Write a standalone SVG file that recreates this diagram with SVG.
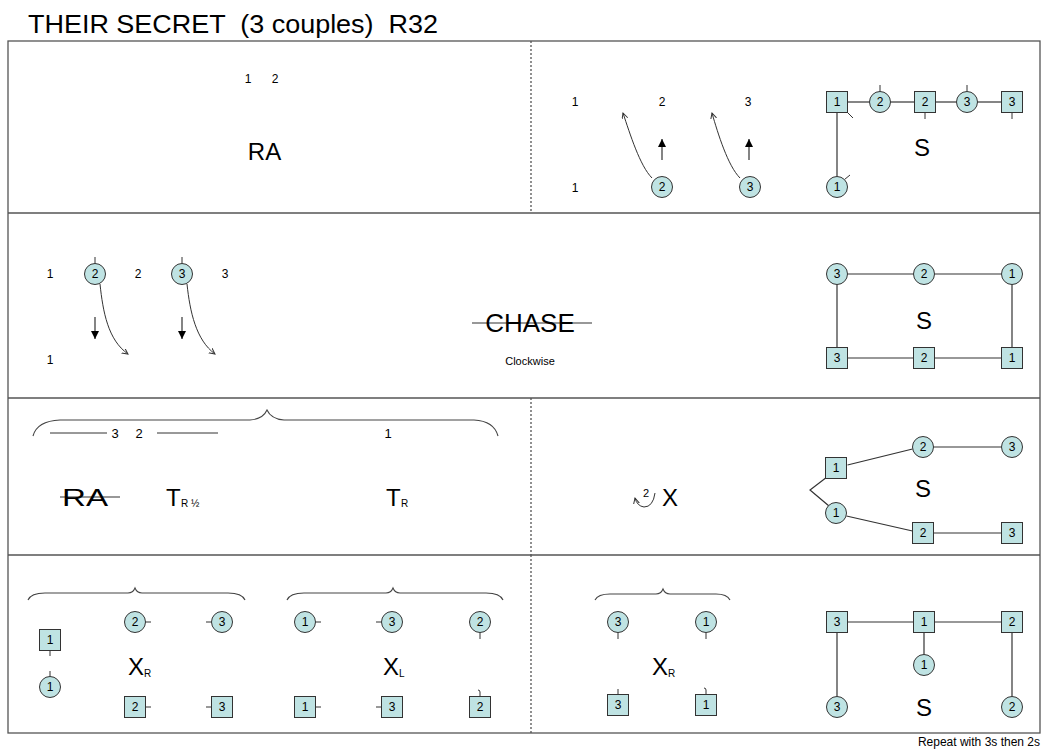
<svg xmlns="http://www.w3.org/2000/svg" width="1042" height="752" viewBox="0 0 1042 752">
  <style>
    text { font-family: "Liberation Sans", Arial, sans-serif; fill: #000; }
    .title { font-size: 26px; white-space: pre; }
    .big { font-size: 24px; }
    .num { font-size: 12px; text-anchor: middle; }
    .lab { font-size: 12px; text-anchor: middle; }
    .sub { font-size: 10px; }
    .frame { fill: none; stroke: #555; stroke-width: 1.3; }
    .dash { stroke: #555; stroke-width: 1.3; stroke-dasharray: 2 2; }
    .w { fill: #bfe3e3; stroke: #333; stroke-width: 1; }
    .ln { stroke: #333; stroke-width: 1.2; fill: none; }
    .thin { stroke: #333; stroke-width: 1; fill: none; }
    .brace { stroke: #444; stroke-width: 1.1; fill: none; }
  </style>
  <defs>
    <marker id="open" markerWidth="8" markerHeight="8" refX="6" refY="3" orient="auto" markerUnits="userSpaceOnUse">
      <path d="M0,0 L6,3 L0,6" fill="none" stroke="#333" stroke-width="1"/>
    </marker>
    <marker id="solid" markerWidth="10" markerHeight="10" refX="8" refY="4" orient="auto" markerUnits="userSpaceOnUse">
      <path d="M0,0 L8,4 L0,8 Z" fill="#000"/>
    </marker>
  </defs>
  <rect width="1042" height="752" fill="#fff"/>

  <text class="title" x="28" y="33" textLength="410" lengthAdjust="spacingAndGlyphs" xml:space="preserve">THEIR SECRET  (3 couples)  R32</text>

  <!-- frame and row dividers -->
  <g id="frame">
    <rect class="frame" x="8" y="41" width="1032" height="692"/>
    <line class="frame" x1="8" y1="213" x2="1040" y2="213"/>
    <line class="frame" x1="8" y1="398" x2="1040" y2="398"/>
    <line class="frame" x1="8" y1="555" x2="1040" y2="555"/>
    <line class="dash" x1="531" y1="41" x2="531" y2="213"/>
    <line class="dash" x1="531" y1="398" x2="531" y2="555"/>
    <line class="dash" x1="531" y1="555" x2="531" y2="733"/>
  </g>

  <!-- connectors: formation lines, arrows, ticks, braces -->
  <g id="connectors">
    <!-- row 1 arrows -->
    <path class="thin" d="M652,178 C640,166 630,134 623,113" marker-end="url(#open)"/>
    <path class="thin" d="M740,178 C728,166 718,134 712,113" marker-end="url(#open)"/>
    <line class="ln" x1="662" y1="160" x2="662" y2="139" marker-end="url(#solid)"/>
    <line class="ln" x1="749" y1="160" x2="749" y2="139" marker-end="url(#solid)"/>
    <!-- row 1 S -->
    <line class="ln" x1="847.5" y1="102" x2="869.5" y2="102"/>
    <line class="ln" x1="890.5" y1="102" x2="914.5" y2="102"/>
    <line class="ln" x1="935.5" y1="102" x2="956.5" y2="102"/>
    <line class="ln" x1="977.5" y1="102" x2="1001.5" y2="102"/>
    <line class="ln" x1="837" y1="112.5" x2="837" y2="176.5"/>
    <line class="thin" x1="847.5" y1="112.5" x2="853" y2="118"/>
    <line class="thin" x1="880" y1="91.5" x2="880" y2="85"/>
    <line class="thin" x1="925" y1="112.5" x2="925" y2="119"/>
    <line class="thin" x1="967" y1="91.5" x2="967" y2="85"/>
    <line class="thin" x1="1012" y1="112.5" x2="1012" y2="119"/>
    <line class="thin" x1="844.5" y1="179.5" x2="850" y2="175"/>

    <!-- row 2 arrows -->
    <line class="thin" x1="95" y1="263.5" x2="95" y2="257"/>
    <line class="thin" x1="182" y1="263.5" x2="182" y2="257"/>
    <line class="ln" x1="95" y1="317" x2="95" y2="339" marker-end="url(#solid)"/>
    <line class="ln" x1="182" y1="317" x2="182" y2="339" marker-end="url(#solid)"/>
    <path class="thin" d="M100,284 C103,312 108,340 128,354" marker-end="url(#open)"/>
    <path class="thin" d="M187,284 C190,312 196,340 215,354" marker-end="url(#open)"/>
    <!-- row 2 S -->
    <line class="ln" x1="847.5" y1="274" x2="913.5" y2="274"/>
    <line class="ln" x1="934.5" y1="274" x2="1001.5" y2="274"/>
    <line class="ln" x1="847.5" y1="358" x2="913.5" y2="358"/>
    <line class="ln" x1="934.5" y1="358" x2="1001.5" y2="358"/>
    <line class="ln" x1="837" y1="284.5" x2="837" y2="347.5"/>
    <line class="ln" x1="1012" y1="284.5" x2="1012" y2="347.5"/>
    <!-- CHASE strike -->
    <line class="ln" x1="472" y1="323" x2="592" y2="323"/>

    <!-- row 3 brace and lines -->
    <path class="brace" d="M33,436 Q37,421 60,420 L250,420 Q263,419 267,410 Q271,419 284,420 L474,420 Q494,421 498,436"/>
    <line class="thin" x1="50" y1="433" x2="107" y2="433"/>
    <line class="thin" x1="157" y1="433" x2="218" y2="433"/>
    <line class="ln" x1="60" y1="497" x2="120" y2="497"/>
    <path class="thin" d="M655,493 Q653,507 644,507 Q637,506 635,498" marker-end="url(#open)"/>
    <!-- row 3 S -->
    <line class="ln" x1="847.5" y1="465" x2="912.5" y2="449"/>
    <line class="ln" x1="933.5" y1="447" x2="1001.5" y2="447"/>
    <line class="ln" x1="846.5" y1="516" x2="912.5" y2="531"/>
    <line class="ln" x1="933.5" y1="533" x2="1001.5" y2="533"/>
    <polyline class="ln" points="827,477 810,490 829,506"/>

    <!-- row 4 braces -->
    <path class="brace" d="M28,600 Q31,593 45,593 L128,593 Q133,593 135,588 Q137,593 142,593 L228,593 Q242,593 245,600"/>
    <path class="brace" d="M287,600 Q290,593 304,593 L386,593 Q391,593 393,588 Q395,593 400,593 L486,593 Q500,593 503,600"/>
    <path class="brace" d="M595,600 Q598,594 610,594 L656,594 Q661,594 663,589 Q665,594 670,594 L716,594 Q727,594 730,600"/>
    <!-- row 4 ticks -->
    <line class="thin" x1="50" y1="650.5" x2="50" y2="656"/>
    <line class="thin" x1="50" y1="676.5" x2="50" y2="671"/>
    <line class="thin" x1="145.5" y1="622" x2="151" y2="622"/>
    <line class="thin" x1="211.5" y1="622" x2="206" y2="622"/>
    <line class="thin" x1="145.5" y1="707" x2="151" y2="707"/>
    <line class="thin" x1="211.5" y1="707" x2="206" y2="707"/>
    <line class="thin" x1="315.5" y1="622" x2="321" y2="622"/>
    <line class="thin" x1="381.5" y1="622" x2="376" y2="622"/>
    <line class="thin" x1="480" y1="632.5" x2="480" y2="639"/>
    <line class="thin" x1="315.5" y1="707" x2="321" y2="707"/>
    <line class="thin" x1="381.5" y1="707" x2="376" y2="707"/>
    <path class="thin" d="M480,696.5 L480,692 Q480,690 478,690"/>
    <line class="thin" x1="618" y1="632.5" x2="618" y2="639"/>
    <line class="thin" x1="706" y1="632.5" x2="706" y2="639"/>
    <line class="thin" x1="618" y1="694.5" x2="618" y2="689"/>
    <path class="thin" d="M706,694.5 L706,690 Q706,688 704,688"/>
    <!-- row 4 S -->
    <line class="ln" x1="847.5" y1="622" x2="913.5" y2="622"/>
    <line class="ln" x1="934.5" y1="622" x2="1001.5" y2="622"/>
    <line class="ln" x1="837" y1="632.5" x2="837" y2="696.5"/>
    <line class="ln" x1="924" y1="632.5" x2="924" y2="654.5"/>
    <line class="ln" x1="1012" y1="632.5" x2="1012" y2="696.5"/>
  </g>

  <!-- row 1 -->
  <g id="row1-labels">
    <text class="num" x="248" y="83">1</text>
    <text class="num" x="275" y="83">2</text>
    <text class="big" x="264.5" y="160" text-anchor="middle">RA</text>
    <text class="num" x="575" y="106">1</text>
    <text class="num" x="662" y="106">2</text>
    <text class="num" x="748" y="106">3</text>
    <text class="num" x="575" y="192">1</text>
    <text class="big" x="922" y="156" text-anchor="middle">S</text>
  </g>
  <g id="r1-w2"><circle class="w" cx="662" cy="187" r="10.5"/><text class="lab" x="662" y="191">2</text></g>
  <g id="r1-w3"><circle class="w" cx="750" cy="187" r="10.5"/><text class="lab" x="750" y="191">3</text></g>
  <g id="r1-m1"><rect class="w" x="826.5" y="91.5" width="21" height="21"/><text class="lab" x="837" y="106">1</text></g>
  <g id="r1-c2"><circle class="w" cx="880" cy="102" r="10.5"/><text class="lab" x="880" y="106">2</text></g>
  <g id="r1-m2"><rect class="w" x="914.5" y="91.5" width="21" height="21"/><text class="lab" x="925" y="106">2</text></g>
  <g id="r1-c3"><circle class="w" cx="967" cy="102" r="10.5"/><text class="lab" x="967" y="106">3</text></g>
  <g id="r1-m3"><rect class="w" x="1001.5" y="91.5" width="21" height="21"/><text class="lab" x="1012" y="106">3</text></g>
  <g id="r1-c1"><circle class="w" cx="837" cy="187" r="10.5"/><text class="lab" x="837" y="191">1</text></g>

  <!-- row 2 -->
  <g id="row2-labels">
    <text class="num" x="50" y="278">1</text>
    <text class="num" x="138" y="278">2</text>
    <text class="num" x="225" y="278">3</text>
    <text class="num" x="50" y="364">1</text>
    <text x="530" y="332" text-anchor="middle" style="font-size:26px">CHASE</text>
    <text x="530" y="365" text-anchor="middle" style="font-size:11px">Clockwise</text>
    <text class="big" x="924" y="329" text-anchor="middle">S</text>
  </g>
  <g id="r2-w2"><circle class="w" cx="95" cy="274" r="10.5"/><text class="lab" x="95" y="278">2</text></g>
  <g id="r2-w3"><circle class="w" cx="182" cy="274" r="10.5"/><text class="lab" x="182" y="278">3</text></g>
  <g id="r2-c3"><circle class="w" cx="837" cy="274" r="10.5"/><text class="lab" x="837" y="278">3</text></g>
  <g id="r2-c2"><circle class="w" cx="924" cy="274" r="10.5"/><text class="lab" x="924" y="278">2</text></g>
  <g id="r2-c1"><circle class="w" cx="1012" cy="274" r="10.5"/><text class="lab" x="1012" y="278">1</text></g>
  <g id="r2-m3"><rect class="w" x="826.5" y="347.5" width="21" height="21"/><text class="lab" x="837" y="362">3</text></g>
  <g id="r2-m2"><rect class="w" x="913.5" y="347.5" width="21" height="21"/><text class="lab" x="924" y="362">2</text></g>
  <g id="r2-m1"><rect class="w" x="1001.5" y="347.5" width="21" height="21"/><text class="lab" x="1012" y="362">1</text></g>

  <!-- row 3 -->
  <g id="row3-labels">
    <text class="num" x="115" y="438" style="font-size:13px">3</text>
    <text class="num" x="139" y="438" style="font-size:13px">2</text>
    <text class="num" x="388" y="438" style="font-size:13px">1</text>
    <text class="big" x="62" y="506" textLength="46" lengthAdjust="spacingAndGlyphs">RA</text>
    <text class="big" x="166" y="506">T</text>
    <text class="sub" x="181" y="507">R ½</text>
    <text class="big" x="386" y="506">T</text>
    <text class="sub" x="401" y="507">R</text>
    <text x="646" y="497" text-anchor="middle" style="font-size:11px">2</text>
    <text class="big" x="662" y="506">X</text>
    <text class="big" x="923" y="497" text-anchor="middle">S</text>
  </g>
  <g id="r3-m1"><rect class="w" x="825.5" y="457.5" width="21" height="21"/><text class="lab" x="836" y="472">1</text></g>
  <g id="r3-c2"><circle class="w" cx="923" cy="447" r="10.5"/><text class="lab" x="923" y="451">2</text></g>
  <g id="r3-c3"><circle class="w" cx="1012" cy="447" r="10.5"/><text class="lab" x="1012" y="451">3</text></g>
  <g id="r3-c1"><circle class="w" cx="836" cy="513" r="10.5"/><text class="lab" x="836" y="517">1</text></g>
  <g id="r3-m2"><rect class="w" x="912.5" y="522.5" width="21" height="21"/><text class="lab" x="923" y="537">2</text></g>
  <g id="r3-m3"><rect class="w" x="1001.5" y="522.5" width="21" height="21"/><text class="lab" x="1012" y="537">3</text></g>

  <!-- row 4 -->
  <g id="row4-labels">
    <text class="big" x="128" y="675">X</text>
    <text class="sub" x="144" y="677">R</text>
    <text class="big" x="383" y="675">X</text>
    <text class="sub" x="399" y="677">L</text>
    <text class="big" x="652" y="675">X</text>
    <text class="sub" x="668" y="677">R</text>
    <text class="big" x="924" y="716" text-anchor="middle">S</text>
  </g>
  <g id="r4-m1a"><rect class="w" x="39.5" y="629.5" width="21" height="21"/><text class="lab" x="50" y="644">1</text></g>
  <g id="r4-c1a"><circle class="w" cx="50" cy="687" r="10.5"/><text class="lab" x="50" y="691">1</text></g>
  <g id="r4-c2a"><circle class="w" cx="135" cy="622" r="10.5"/><text class="lab" x="135" y="626">2</text></g>
  <g id="r4-c3a"><circle class="w" cx="222" cy="622" r="10.5"/><text class="lab" x="222" y="626">3</text></g>
  <g id="r4-m2a"><rect class="w" x="124.5" y="696.5" width="21" height="21"/><text class="lab" x="135" y="711">2</text></g>
  <g id="r4-m3a"><rect class="w" x="211.5" y="696.5" width="21" height="21"/><text class="lab" x="222" y="711">3</text></g>
  <g id="r4-c1b"><circle class="w" cx="305" cy="622" r="10.5"/><text class="lab" x="305" y="626">1</text></g>
  <g id="r4-c3b"><circle class="w" cx="392" cy="622" r="10.5"/><text class="lab" x="392" y="626">3</text></g>
  <g id="r4-c2b"><circle class="w" cx="480" cy="622" r="10.5"/><text class="lab" x="480" y="626">2</text></g>
  <g id="r4-m1b"><rect class="w" x="294.5" y="696.5" width="21" height="21"/><text class="lab" x="305" y="711">1</text></g>
  <g id="r4-m3b"><rect class="w" x="381.5" y="696.5" width="21" height="21"/><text class="lab" x="392" y="711">3</text></g>
  <g id="r4-m2b"><rect class="w" x="469.5" y="696.5" width="21" height="21"/><text class="lab" x="480" y="711">2</text></g>
  <g id="r4-c3c"><circle class="w" cx="618" cy="622" r="10.5"/><text class="lab" x="618" y="626">3</text></g>
  <g id="r4-c1c"><circle class="w" cx="706" cy="622" r="10.5"/><text class="lab" x="706" y="626">1</text></g>
  <g id="r4-m3c"><rect class="w" x="607.5" y="694.5" width="21" height="21"/><text class="lab" x="618" y="709">3</text></g>
  <g id="r4-m1c"><rect class="w" x="695.5" y="694.5" width="21" height="21"/><text class="lab" x="706" y="709">1</text></g>
  <g id="r4-m3s"><rect class="w" x="826.5" y="611.5" width="21" height="21"/><text class="lab" x="837" y="626">3</text></g>
  <g id="r4-m1s"><rect class="w" x="913.5" y="611.5" width="21" height="21"/><text class="lab" x="924" y="626">1</text></g>
  <g id="r4-m2s"><rect class="w" x="1001.5" y="611.5" width="21" height="21"/><text class="lab" x="1012" y="626">2</text></g>
  <g id="r4-c3s"><circle class="w" cx="837" cy="707" r="10.5"/><text class="lab" x="837" y="711">3</text></g>
  <g id="r4-c1s"><circle class="w" cx="924" cy="665" r="10.5"/><text class="lab" x="924" y="669">1</text></g>
  <g id="r4-c2s"><circle class="w" cx="1012" cy="707" r="10.5"/><text class="lab" x="1012" y="711">2</text></g>

  <text x="1040" y="746" text-anchor="end" style="font-size:12px">Repeat with 3s then 2s</text>
</svg>
